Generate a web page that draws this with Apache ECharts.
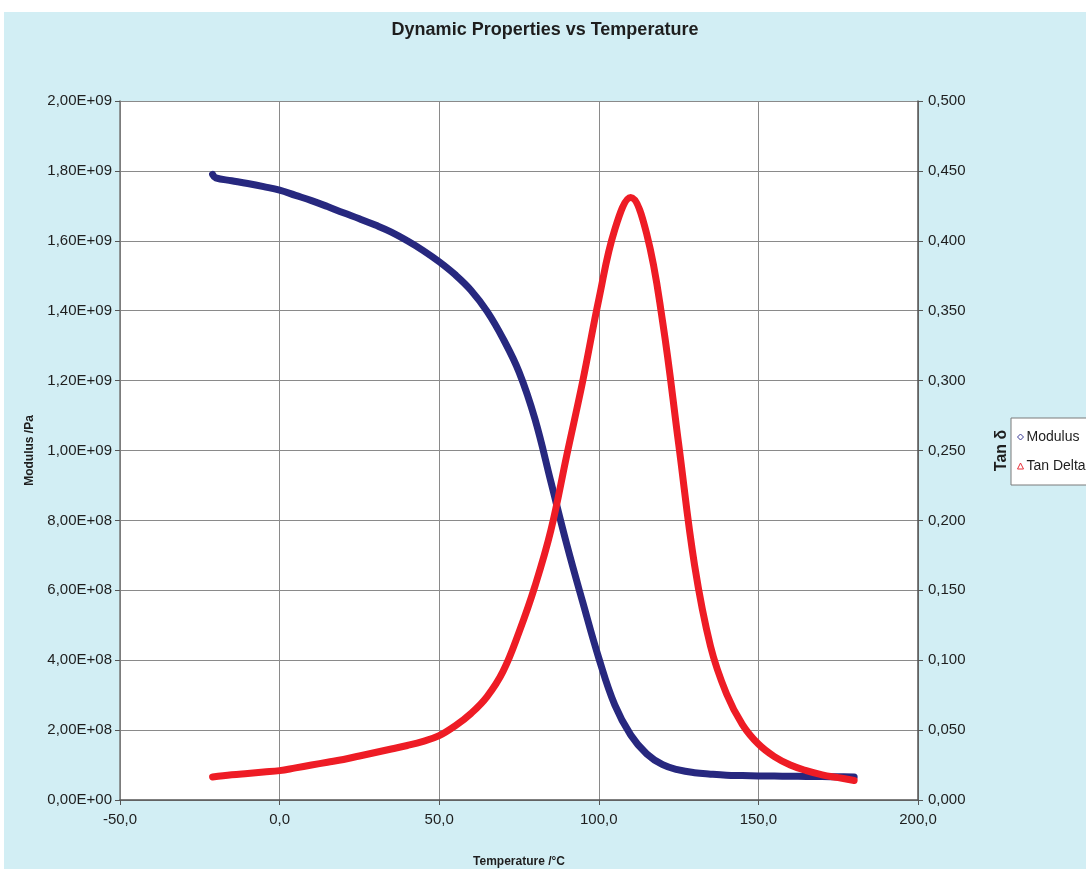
<!DOCTYPE html>
<html>
<head>
<meta charset="utf-8">
<script src="https://cdn.jsdelivr.net/npm/echarts@6/dist/echarts.min.js"></script>
<style>
  html, body { margin: 0; padding: 0; background: #ffffff; }
  #chart { position: absolute; left: 4px; top: 12px; width: 1082px; height: 857px; }
</style>
</head>
<body>
<div id="chart"></div>
<script>
// Modulus (Pa) vs temperature (°C)
const modTemp = [-21, -20, -15, -10, -5, 0, 5, 10, 15, 20, 25, 30, 35, 40, 45, 50, 55, 60, 65, 70, 75, 80, 85, 90, 95, 100, 105, 110, 115, 120, 125, 130, 135, 140, 145, 150, 155, 160, 165, 170, 175, 180];
const modValues = [1.79e9, 1.78e9, 1.772e9, 1.764e9, 1.755e9, 1.745e9, 1.730e9, 1.715e9, 1.698e9, 1.680e9, 1.663e9, 1.645e9, 1.625e9, 1.600e9, 1.572e9, 1.540e9, 1.503e9, 1.458e9, 1.398e9, 1.320e9, 1.225e9, 1.090e9, 0.910e9, 0.730e9, 0.565e9, 0.406e9, 0.272e9, 0.186e9, 0.132e9, 0.101e9, 0.086e9, 0.078e9, 0.074e9, 0.071e9, 0.070e9, 0.069e9, 0.0685e9, 0.068e9, 0.0675e9, 0.067e9, 0.0665e9, 0.066e9];

// Tan delta vs temperature (°C)
const tanTemp = [-21, -15, -10, -5, 0, 5, 10, 15, 20, 25, 30, 35, 40, 45, 50, 55, 60, 65, 70, 75, 80, 85, 90, 95, 100, 105, 110, 115, 120, 125, 130, 135, 140, 145, 150, 155, 160, 165, 170, 175, 180];
const tanValues = [0.0165, 0.018, 0.019, 0.020, 0.021, 0.023, 0.025, 0.027, 0.029, 0.0315, 0.034, 0.0365, 0.039, 0.042, 0.046, 0.053, 0.062, 0.074, 0.092, 0.120, 0.153, 0.193, 0.247, 0.300, 0.358, 0.408, 0.431, 0.405, 0.342, 0.255, 0.168, 0.110, 0.076, 0.054, 0.040, 0.031, 0.025, 0.021, 0.018, 0.016, 0.014];

const seriesNames = ['Modulus', 'Tan Delta'];

const FONT = "'Liberation Sans Narrow', 'Arial Narrow', 'Liberation Sans', Arial, sans-serif";
const TEXT = '#1e1e1e';

function sciComma(v) {
  if (v === 0) return '0,00E+00';
  const exp = Math.floor(Math.log10(v) + 1e-9);
  const mant = v / Math.pow(10, exp);
  return mant.toFixed(2).replace('.', ',') + 'E+' + String(exp).padStart(2, '0');
}

const chart = echarts.init(document.getElementById('chart'));

const option = {
  backgroundColor: '#d2eef4',
  animation: false,
  title: {
    text: 'Dynamic Properties vs Temperature',
    left: 'center',
    top: 4,
    textStyle: { fontFamily: FONT, fontSize: 18, fontWeight: 'bold', color: TEXT }
  },
  legend: {
    orient: 'vertical',
    left: 1007,
    top: 406,
    data: [
      { name: 'Modulus', icon: 'diamond', itemStyle: { color: '#ffffff', borderColor: '#3a3a96', borderWidth: 1 } },
      { name: 'Tan Delta', icon: 'triangle', itemStyle: { color: '#ffffff', borderColor: '#e8303a', borderWidth: 1 } }
    ],
    itemWidth: 6,
    itemHeight: 6,
    itemGap: 15,
    padding: [12, 8, 12, 6],
    backgroundColor: '#ffffff',
    borderColor: '#7a7a7a',
    borderWidth: 1,
    textStyle: { fontFamily: FONT, fontSize: 14, color: TEXT, padding: [0, 0, 0, -2] }
  },
  grid: {
    left: 116,
    top: 89,
    width: 798,
    height: 699,
    outerBoundsMode: 'none',
    show: true,
    backgroundColor: '#ffffff',
    borderWidth: 0
  },
  xAxis: {
    type: 'value',
    min: -50,
    max: 200,
    interval: 50,
    name: 'Temperature /°C',
    nameLocation: 'middle',
    nameGap: 56,
    nameTextStyle: { fontFamily: FONT, fontSize: 12, fontWeight: 'bold', color: TEXT },
    axisLine: { show: true, onZero: false, lineStyle: { color: '#555555', width: 1.5 } },
    axisTick: { show: true, length: 5, lineStyle: { color: '#555555' } },
    axisLabel: {
      fontFamily: FONT, fontSize: 15, color: TEXT, margin: 12,
      formatter: v => v.toFixed(1).replace('.', ',')
    },
    splitLine: { show: true, lineStyle: { color: '#8a8a8a', width: 1 } }
  },
  yAxis: [
    {
      type: 'value',
      min: 0,
      max: 2e9,
      interval: 2e8,
      name: 'Modulus /Pa',
      nameLocation: 'middle',
      nameGap: 84,
      nameRotate: 90,
      nameTextStyle: { fontFamily: FONT, fontSize: 12, fontWeight: 'bold', color: TEXT },
      axisLine: { show: true, onZero: false, lineStyle: { color: '#777777', width: 1.5 } },
      axisTick: { show: true, length: 5, lineStyle: { color: '#555555' } },
      axisLabel: { fontFamily: FONT, fontSize: 15, color: TEXT, margin: 8, formatter: sciComma },
      splitLine: { show: true, lineStyle: { color: '#8a8a8a', width: 1 } }
    },
    {
      type: 'value',
      min: 0,
      max: 0.5,
      interval: 0.05,
      name: 'Tan δ',
      nameLocation: 'middle',
      nameGap: 76,
      nameRotate: 90,
      nameTextStyle: { fontFamily: FONT, fontSize: 16, fontWeight: 'bold', color: TEXT },
      axisLine: { show: true, onZero: false, lineStyle: { color: '#555555', width: 1.5 } },
      axisTick: { show: true, length: 5, lineStyle: { color: '#555555' } },
      axisLabel: { fontFamily: FONT, fontSize: 15, color: TEXT, margin: 10, formatter: v => v.toFixed(3).replace('.', ',') },
      splitLine: { show: false }
    }
  ],
  series: [
    {
      name: seriesNames[0],
      type: 'line',
      yAxisIndex: 0,
      smooth: 0.4,
      showSymbol: false,
      data: modTemp.map((t, i) => [t, modValues[i]]),
      lineStyle: { color: '#27287f', width: 7, cap: 'round' },
      itemStyle: { color: '#27287f' }
    },
    {
      name: seriesNames[1],
      type: 'line',
      yAxisIndex: 1,
      smooth: 0.4,
      showSymbol: false,
      data: tanTemp.map((t, i) => [t, tanValues[i]]),
      lineStyle: { color: '#ee1c25', width: 7, cap: 'round' },
      itemStyle: { color: '#ee1c25' }
    }
  ]
};

chart.setOption(option);
</script>
</body>
</html>
